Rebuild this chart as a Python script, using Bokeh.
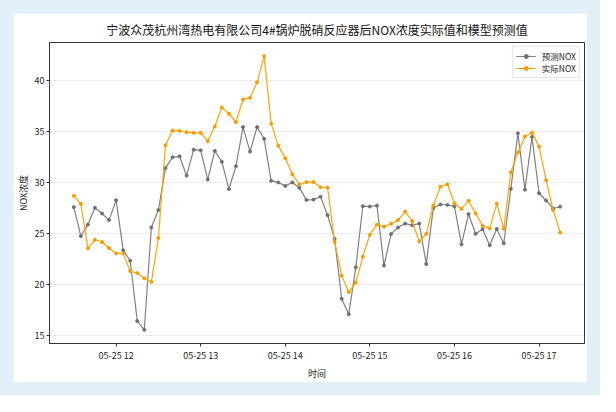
import pandas as pd
from bokeh.plotting import figure
from bokeh.models import FixedTicker, Range1d
from bokeh.layouts import column
from bokeh.embed import file_html
from bokeh.resources import INLINE

# ---- data ----
start_time = "2021-05-25 11:30"
n_points = 70
times = pd.date_range(start_time, periods=n_points, freq="5min")

predicted_nox = [
    27.61, 24.78, 25.90, 27.55, 26.99, 26.34, 28.29, 23.39, 22.36, 16.46,
    15.59, 25.62, 27.32, 31.43, 32.49, 32.59, 30.69, 33.24, 33.18, 30.31,
    33.12, 32.06, 29.38, 31.62, 35.45, 33.05, 35.45, 34.30, 30.19, 30.03,
    29.69, 30.03, 29.50, 28.32, 28.35, 28.63, 26.83, 24.50, 18.63, 17.11,
    21.71, 27.70, 27.67, 27.76, 21.89, 24.97, 25.62, 26.00, 25.84, 26.00,
    22.04, 27.52, 27.87, 27.83, 27.68, 23.97, 26.93, 25.00, 25.45, 23.88,
    25.47, 24.07, 29.41, 34.84, 29.32, 34.50, 28.97, 28.26, 27.48, 27.66,
]
actual_nox = [
    28.73, 27.92, 23.57, 24.41, 24.19, 23.60, 23.07, 23.07, 21.33, 21.15,
    20.65, 20.28, 24.58, 33.68, 35.11, 35.08, 34.95, 34.89, 34.89, 34.08,
    35.51, 37.38, 36.76, 35.95, 38.16, 38.32, 39.84, 42.40, 35.79, 33.64,
    32.40, 30.84, 29.83, 30.06, 30.08, 29.55, 29.53, 24.19, 20.90, 19.29,
    20.22, 22.76, 24.91, 25.90, 25.68, 25.99, 26.34, 27.18, 26.25, 24.25,
    25.00, 27.77, 29.61, 29.86, 27.99, 27.43, 28.24, 27.00, 25.78, 25.53,
    27.96, 25.50, 31.01, 32.97, 34.53, 34.91, 33.54, 30.25, 27.32, 25.12,
]
tick_times = ["2021-05-25 12:00", "2021-05-25 13:00", "2021-05-25 14:00",
              "2021-05-25 15:00", "2021-05-25 16:00", "2021-05-25 17:00"]
tick_labels = ["05-25 12", "05-25 13", "05-25 14", "05-25 15", "05-25 16", "05-25 17"]
y_ticks = [15, 20, 25, 30, 35, 40]

title_text = "宁波众茂杭州湾热电有限公司4#锅炉脱硝反应器后NOX浓度实际值和模型预测值"
label_pred = "预测NOX"
label_actual = "实际NOX"

# ---- helpers ----
x_ms = [t.value / 1e6 for t in times]
tick_ms = [pd.Timestamp(t).value / 1e6 for t in tick_times]

span_x = x_ms[-1] - x_ms[0]
all_y = predicted_nox + actual_nox
span_y = max(all_y) - min(all_y)

FONT = "Noto Sans CJK SC"

p = figure(
    width=574, height=369,
    output_backend="svg", toolbar_location=None,
    x_range=Range1d(x_ms[0] - 0.05 * span_x, x_ms[-1] + 0.05 * span_x),
    y_range=Range1d(min(all_y) - 0.05 * span_y, max(all_y) + 0.05 * span_y),
    title=title_text,
)
p.min_border_left = 29
p.min_border_right = 3
p.min_border_top = 27
p.min_border_bottom = 27
p.background_fill_color = "white"
p.border_fill_color = "white"
p.outline_line_color = "#333333"
p.outline_line_width = 1

p.title.text_font = FONT
p.title.text_font_size = "12px"
p.title.text_font_style = "normal"
p.title.align = "center"
p.title.text_color = "#111111"
p.title.standoff = 10

p.xgrid.visible = False
p.ygrid.grid_line_color = "#d0d0d0"
p.ygrid.grid_line_dash = "2 2"
p.ygrid.grid_line_width = 0.8

p.xaxis.ticker = FixedTicker(ticks=tick_ms)
p.xaxis.major_label_overrides = {t: l for t, l in zip(tick_ms, tick_labels)}
p.yaxis.ticker = FixedTicker(ticks=y_ticks)
p.xaxis.axis_label = "时间"
p.yaxis.axis_label = "NOX浓度"

for ax in (p.xaxis[0], p.yaxis[0]):
    ax.axis_line_color = "#333333"
    ax.major_tick_line_color = "#333333"
    ax.minor_tick_line_color = None
    ax.major_tick_in = 0
    ax.major_tick_out = 3
    ax.major_label_standoff = 2
    ax.major_label_text_font = FONT
    ax.major_label_text_font_size = "9px"
    ax.major_label_text_color = "#222222"
    ax.axis_label_text_font = FONT
    ax.axis_label_text_font_size = "9px"
    ax.axis_label_text_font_style = "normal"
    ax.axis_label_text_color = "#222222"
    ax.axis_label_standoff = 2

p.line(x_ms, predicted_nox, line_color="gray", line_width=1.2, legend_label=label_pred)
p.scatter(x_ms, predicted_nox, size=3, fill_color="#707070", line_color="#707070", legend_label=label_pred)
p.line(x_ms, actual_nox, line_color="orange", line_width=1.2, legend_label=label_actual)
p.scatter(x_ms, actual_nox, size=3, fill_color="#f59d00", line_color="#f59d00", legend_label=label_actual)

lg = p.legend[0]
lg.location = "top_right"
lg.margin = 4
lg.padding = 3
lg.spacing = 0
lg.label_text_font = FONT
lg.label_text_font_size = "8.5px"
lg.label_text_color = "#222222"
lg.label_height = 10
lg.glyph_height = 10
lg.glyph_width = 20
lg.label_standoff = 6
lg.border_line_color = "#cccccc"
lg.border_line_width = 1
lg.background_fill_alpha = 0.8

layout = column(p, styles={"background-color": "#e1f0f8", "padding": "13px"})

open("out.html", "w").write(file_html(layout, INLINE))
